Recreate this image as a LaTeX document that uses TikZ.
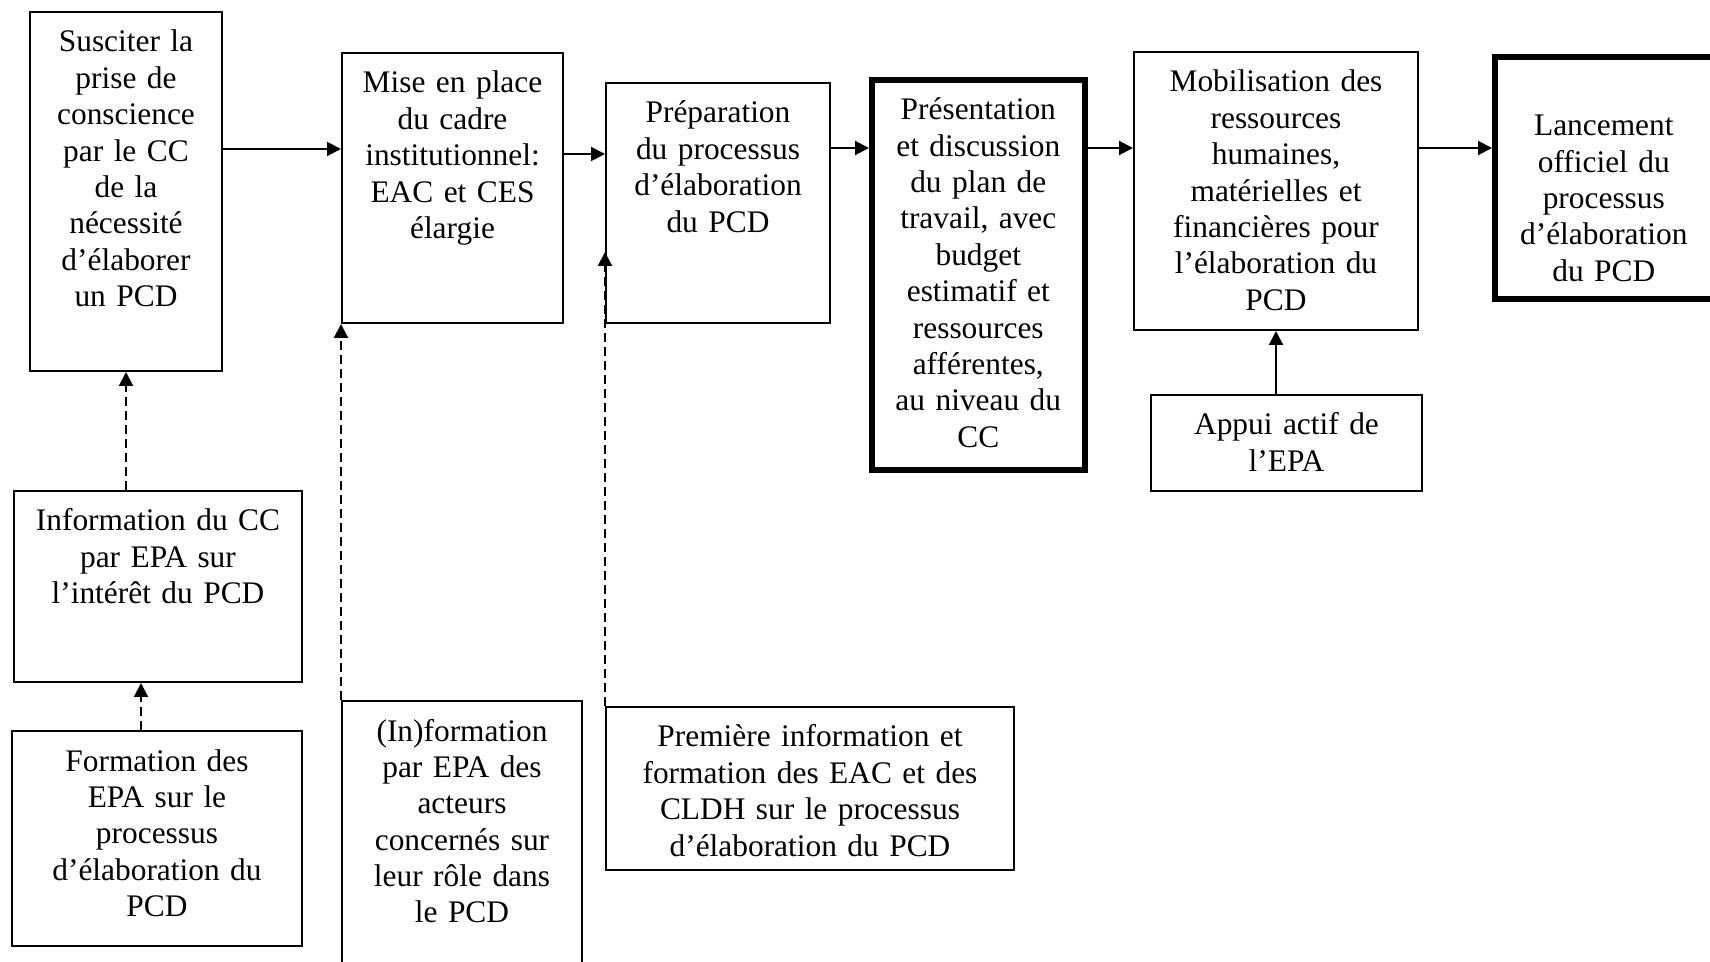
\documentclass[tikz,border=0pt]{standalone}
\usepackage{fontspec}
\setmainfont{Liberation Serif}
\usetikzlibrary{arrows.meta}

\begin{document}
\begin{tikzpicture}[x=0.5pt, y=-0.5pt,
    box/.style={draw, line width=1pt, anchor=north west, align=center,
        inner xsep=4pt, inner ysep=0pt, text height=20pt,
        font=\fontsize{15.7}{18.2}\selectfont},
    thickbox/.style={box, line width=2.8pt},
    arr/.style={line width=1pt, -{Triangle[length=7pt,width=7pt]}},
    dasharr/.style={arr, dash pattern=on 4.5pt off 2.5pt}]
        \clip (0,0) rectangle (1710,962);
        \coordinate(r1) at (0,149);
        \coordinate(r2) at (0,154);
        \coordinate(r3) at (0,148);
        \coordinate(c1) at (141,0);
        \coordinate(c2) at (0,252);

        % top row
        \node[box, text width=88pt, text depth=159.5pt](sus) at (29,11)
            {Susciter la\\prise de\\conscience\\par le CC\\de la\\nécessité\\d’élaborer\\un PCD};
        \node[box, text width=102.5pt, text depth=115pt](mise) at (341,52)
            {Mise en place\\du cadre\\institutionnel:\\EAC et CES\\élargie};
        \node[box, text width=104pt, text depth=100pt](prep) at (605,82)
            {Préparation\\du processus\\d’élaboration\\du PCD};
        \node[thickbox, text width=98.5pt, text depth=175pt](pres) at (869,77)
            {Présentation\\et discussion\\du plan de\\travail, avec\\budget\\estimatif et\\ressources\\afférentes,\\au niveau du\\CC};
        \node[box, text width=134pt, text depth=119pt](mob) at (1133,51)
            {Mobilisation des\\ressources\\humaines,\\matérielles et\\financières pour\\l’élaboration du\\PCD};
        \node[thickbox, text width=101pt, text height=39.5pt, text depth=81.5pt](lanc) at (1492,54)
            {Lancement\\officiel du\\processus\\d’élaboration\\du PCD};

        % support boxes
        \node[box, text width=136pt, text depth=75.5pt](info) at (13,490)
            {Information du CC\\par EPA sur\\l’intérêt du PCD};
        \node[box, text width=137pt, text depth=87.5pt](form) at (11,730)
            {Formation des\\EPA sur le\\processus\\d’élaboration du\\PCD};
        \node[box, text width=112pt, text depth=120pt](inf2) at (341,700)
            {(In)formation\\par EPA des\\acteurs\\concernés sur\\leur rôle dans\\le PCD};
        \node[box, text width=196pt, text depth=61.5pt](prem) at (605,706)
            {Première information et\\formation des EAC et des\\CLDH sur le processus\\d’élaboration du PCD};
        \node[box, text width=127.5pt, text depth=28pt](appui) at (1150,394)
            {Appui actif de\\l’EPA};

        % main flow
        \draw[arr] (sus.east |- r1) -- (mise.west |- r1);
        \draw[arr] (mise.east |- r2) -- (prep.west |- r2);
        \draw[arr] (prep.east |- r3) -- (pres.west |- r3);
        \draw[arr] (pres.east |- r3) -- (mob.west |- r3);
        \draw[arr] (mob.east |- r3) -- (lanc.west |- r3);

        % inputs
        \draw[dasharr] (sus.south |- info.north) -- (sus.south);
        \draw[dasharr] (c1 |- form.north) -- (c1 |- info.south);
        \draw[dasharr] (inf2.north west) -- (mise.south west);
        \draw[dasharr] (prem.north west) -- (prep.west |- c2);
        \draw[arr] (appui.north -| mob.south) -- (mob.south);
\end{tikzpicture}
\end{document}
